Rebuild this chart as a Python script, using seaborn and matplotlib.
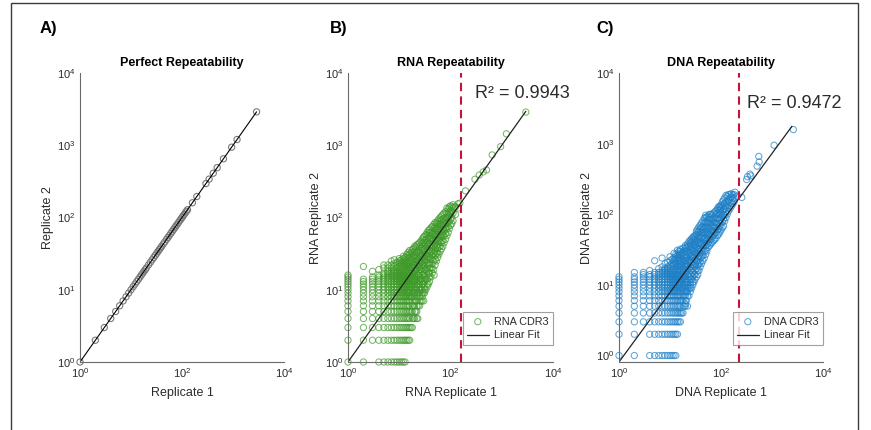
import numpy as np
import pandas as pd
import matplotlib
matplotlib.use('Agg')
import matplotlib.pyplot as plt
import seaborn as sns
from matplotlib.ticker import FixedLocator, LogLocator, NullFormatter, LogFormatterSciNotation
from matplotlib.patches import Rectangle

# ================================
# 0. style
# ================================
sns.set_theme(style='white')
plt.rcParams['font.family'] = ['Liberation Sans', 'DejaVu Sans']
plt.rcParams['mathtext.fontset'] = 'custom'
plt.rcParams['mathtext.rm'] = 'Liberation Sans'
plt.rcParams['mathtext.it'] = 'Liberation Sans:italic'
plt.rcParams['mathtext.bf'] = 'Liberation Sans:bold'

GREEN = '#3f9a2a'
BLUE = '#1f80c6'
GREY = '#7a7a7a'
RED = '#c4143a'
AXIS = '#6a6a6a'
TXT = '#2b2b2b'

# ================================
# data
# ================================
# A) perfect repeatability
perfect_vals = [1, 2, 3, 4, 5, 6, 7, 8, 9, 10, 11, 12, 13, 14, 15, 16, 17, 18, 19, 20,
                22, 24, 26, 28, 30, 32, 34, 36, 38, 40, 43, 46, 50, 53, 56, 60, 64, 68,
                72, 76, 80, 85, 90, 95, 100, 105, 110, 116, 122, 128, 160, 195, 295,
                340, 410, 490, 650, 940, 1200, 2900]

# B) RNA - low count integer grid (replicate 1 value -> replicate 2 values)
rna_grid_x = [1, 2, 3, 4, 5, 6, 7, 8, 9, 10, 11, 12, 13, 14, 15]
rna_grid_y = [
    [1, 2, 3, 4, 5, 6, 7, 8, 9, 10, 11, 12, 13, 14, 15, 16],
    [1, 2, 3, 4, 5, 6, 7, 8, 9, 10, 11, 12, 13, 14, 21],
    [2, 3, 4, 5, 6, 7, 8, 9, 10, 11, 12, 13, 14, 15, 18],
    [1, 2, 3, 4, 5, 6, 7, 8, 9, 10, 11, 12, 13, 14, 15, 16, 19],
    [1, 2, 3, 4, 5, 6, 7, 8, 9, 10, 11, 12, 13, 14, 15, 16, 17, 20, 22],
    [1, 2, 3, 4, 5, 6, 7, 8, 9, 10, 11, 12, 13, 14, 15, 16, 17, 18, 20, 22],
    [1, 2, 3, 4, 5, 6, 7, 8, 9, 10, 11, 12, 13, 14, 15, 16, 17, 18, 20, 22, 25],
    [1, 2, 3, 4, 5, 6, 7, 8, 9, 10, 11, 12, 13, 14, 15, 16, 17, 18, 19, 21, 23, 26],
    [1, 2, 3, 4, 5, 6, 7, 8, 9, 10, 11, 12, 13, 14, 15, 16, 17, 18, 20, 22, 24],
    [1, 2, 3, 4, 5, 6, 7, 8, 9, 10, 11, 12, 13, 14, 15, 16, 17, 18, 19, 21, 23, 25, 27],
    [1, 2, 3, 4, 5, 6, 7, 8, 9, 10, 11, 12, 13, 14, 15, 16, 17, 18, 20, 22, 24, 26],
    [1, 2, 3, 4, 5, 6, 7, 8, 9, 10, 11, 12, 13, 14, 15, 16, 17, 19, 21, 23, 25, 27, 29],
    [1, 2, 3, 4, 5, 6, 7, 8, 9, 10, 11, 12, 13, 14, 15, 16, 18, 20, 22, 24, 26, 28],
    [2, 3, 4, 5, 6, 7, 8, 9, 10, 11, 12, 13, 14, 15, 16, 17, 19, 21, 23, 25, 28, 31],
    [2, 3, 4, 5, 6, 7, 8, 9, 10, 11, 12, 13, 14, 15, 16, 18, 20, 22, 24, 27, 30, 33],
]
# B) RNA - dense cloud
rna_cloud_x = [16, 18, 20, 22, 25, 28, 31, 35, 39, 44, 50, 56, 63, 71, 80, 90, 100, 112, 125, 140]
rna_cloud_y = [
    [2, 3, 4, 5, 6, 7, 8, 9, 10, 11, 12, 13, 14, 15, 16, 17, 19, 21, 23, 25, 28, 31, 35],
    [3, 4, 5, 6, 7, 8, 9, 10, 11, 12, 13, 14, 15, 16, 17, 18, 20, 22, 24, 26, 29, 32, 36],
    [4, 5, 6, 7, 8, 9, 10, 11, 12, 13, 14, 15, 16, 18, 20, 22, 24, 27, 30, 34, 40],
    [4, 5, 6, 7, 8, 9, 10, 11, 12, 13, 14, 16, 18, 20, 22, 24, 26, 29, 33, 38, 42],
    [6, 7, 8, 9, 10, 11, 12, 13, 14, 15, 17, 19, 21, 23, 25, 28, 31, 35, 40, 45],
    [7, 8, 9, 10, 12, 13, 14, 16, 18, 20, 22, 25, 28, 31, 35, 39, 44, 50],
    [9, 10, 11, 13, 15, 17, 19, 21, 24, 27, 30, 33, 37, 42, 48, 55],
    [11, 12, 14, 16, 18, 20, 23, 26, 29, 32, 36, 40, 45, 51, 57, 62],
    [13, 15, 17, 20, 23, 26, 29, 32, 36, 40, 45, 50, 56, 62, 68],
    [17, 20, 23, 26, 30, 34, 38, 42, 47, 52, 58, 64, 75],
    [22, 26, 30, 34, 38, 43, 48, 54, 60, 66, 74, 85],
    [28, 32, 37, 42, 47, 53, 59, 66, 74, 82, 90],
    [34, 40, 46, 52, 58, 65, 72, 80, 90, 100],
    [40, 48, 56, 63, 70, 78, 87, 96, 110],
    [50, 60, 70, 80, 90, 100, 120],
    [62, 75, 88, 100, 112, 130],
    [78, 95, 110, 125, 145],
    [90, 115, 135, 150],
    [110, 140],
    [135, 155],
]
rna_mid_x = [17, 19, 21, 23.5, 26.5, 29.5, 33, 37, 41.5, 47, 53, 59.5, 67, 75, 85, 95, 106]
rna_mid_y = [
    [3, 5, 8, 11, 15, 20, 26, 33],
    [4, 6, 9, 13, 17, 22, 29, 37],
    [5, 7, 10, 14, 19, 25, 31, 39],
    [6, 9, 12, 16, 21, 27, 34, 43],
    [7, 10, 14, 19, 24, 30, 38, 47],
    [9, 12, 16, 22, 28, 36, 45, 53],
    [10, 14, 19, 25, 31, 39, 49, 58],
    [12, 17, 22, 28, 35, 43, 53, 66],
    [15, 20, 27, 34, 42, 51, 61, 72],
    [19, 25, 32, 40, 49, 58, 70, 80],
    [25, 32, 40, 49, 58, 70, 84],
    [31, 39, 48, 58, 69, 80, 95],
    [37, 45, 55, 66, 78, 92, 105],
    [45, 56, 68, 82, 96, 115],
    [56, 70, 84, 98, 115, 135],
    [70, 88, 105, 120, 140],
    [82, 100, 120, 140],
]
# B) RNA - sparse high-count clones
rna_top_x = [23, 30, 48, 122, 152, 196, 300, 363, 435, 505, 650, 950, 1230, 2950]
rna_top_y = [4, 7, 16, 141, 158, 234, 338, 387, 428, 455, 735, 955, 1440, 2880]
rna_fit_x = [1, 2950]
rna_fit_y = [1, 2950]
rna_cutoff = 157
rna_r2 = 0.9943

# C) DNA - low count integer grid
dna_grid_x = [1, 2, 3, 4, 5, 6, 7, 8, 9, 10, 11, 12, 13, 14, 15]
dna_grid_y = [
    [1, 2, 3, 4, 5, 6, 7, 8, 9, 10, 11, 12, 13],
    [1, 2, 3, 4, 5, 6, 7, 8, 9, 10, 11, 12, 13, 15],
    [3, 4, 5, 6, 7, 8, 9, 10, 11, 12, 13, 14, 15],
    [1, 2, 3, 4, 5, 6, 7, 8, 9, 10, 11, 12, 13, 14, 16],
    [1, 2, 3, 4, 5, 6, 7, 8, 9, 10, 11, 12, 13, 14, 15, 22],
    [1, 2, 3, 4, 5, 6, 7, 8, 9, 10, 11, 12, 13, 14, 15, 17],
    [1, 2, 3, 4, 5, 6, 7, 8, 9, 10, 11, 12, 13, 14, 15, 16, 18, 24],
    [1, 2, 3, 4, 5, 6, 7, 8, 9, 10, 11, 12, 13, 14, 15, 16, 17, 20],
    [1, 2, 3, 4, 5, 6, 7, 8, 9, 10, 11, 12, 13, 14, 15, 16, 17, 18, 21],
    [1, 2, 3, 4, 5, 6, 7, 8, 9, 10, 11, 12, 13, 14, 15, 16, 17, 19, 22, 25],
    [1, 2, 3, 4, 5, 6, 7, 8, 9, 10, 11, 12, 13, 14, 15, 16, 18, 20, 23],
    [1, 2, 3, 4, 5, 6, 7, 8, 9, 10, 11, 12, 13, 14, 15, 17, 19, 20, 22, 24, 28],
    [1, 2, 3, 4, 5, 6, 7, 8, 9, 10, 11, 12, 13, 14, 16, 18, 20, 21, 23, 25, 27],
    [2, 3, 4, 5, 6, 7, 8, 9, 10, 11, 12, 13, 14, 16, 18, 20, 22, 24, 26, 31],
    [3, 4, 5, 6, 7, 8, 9, 10, 11, 12, 13, 14, 16, 18, 20, 22, 24, 26, 28, 30],
]
dna_cloud_x = [16, 18, 20, 22, 25, 28, 31, 35, 39, 44, 50, 56, 63, 71, 80, 90, 100, 112, 125, 140, 160, 180]
dna_cloud_y = [
    [3, 4, 5, 6, 7, 8, 9, 10, 11, 12, 13, 14, 15, 16, 18, 20, 22, 24, 27, 30, 32],
    [4, 5, 6, 7, 8, 9, 10, 11, 12, 13, 14, 15, 17, 19, 21, 23, 26, 29, 33],
    [5, 6, 7, 8, 9, 10, 11, 12, 13, 14, 16, 18, 20, 22, 24, 27, 30, 34, 36],
    [5, 7, 8, 9, 10, 11, 12, 14, 16, 18, 20, 22, 25, 28, 31, 35, 38],
    [8, 9, 10, 11, 12, 14, 16, 18, 20, 22, 25, 28, 31, 35, 39, 43],
    [10, 11, 13, 15, 17, 19, 21, 24, 27, 30, 34, 38, 43, 47],
    [12, 14, 16, 18, 20, 23, 26, 29, 33, 37, 41, 46, 50],
    [14, 16, 19, 22, 25, 28, 32, 36, 40, 45, 50, 56, 62],
    [18, 21, 24, 28, 32, 36, 40, 45, 50, 56, 62, 70],
    [22, 26, 30, 34, 39, 44, 49, 55, 61, 68, 80],
    [27, 31, 36, 41, 47, 53, 60, 68, 77, 90, 97],
    [34, 39, 45, 51, 58, 66, 75, 85, 95],
    [38, 44, 51, 58, 66, 75, 85, 100],
    [42, 50, 58, 67, 77, 88, 103],
    [46, 55, 65, 75, 88, 100, 112],
    [52, 62, 75, 88, 100, 115, 128],
    [60, 75, 90, 105, 120, 135],
    [68, 85, 100, 120, 140, 160],
    [90, 110, 130, 150, 185],
    [110, 135, 160, 190],
    [130, 150, 175, 195],
    [150, 170, 190],
]
dna_mid_x = [17, 19, 21, 23.5, 26.5, 29.5, 33, 37, 41.5, 47, 53, 59.5, 67, 75, 85, 95, 106, 118, 132, 150, 170]
dna_mid_y = [
    [4, 6, 9, 12, 16, 21, 28],
    [5, 7, 10, 13, 17, 22, 30],
    [6, 8, 11, 15, 19, 25, 33],
    [7, 9, 13, 17, 22, 28, 36, 41],
    [9, 12, 16, 21, 26, 32, 40, 45],
    [11, 14, 19, 24, 30, 37, 44, 49],
    [13, 17, 22, 28, 34, 42, 52, 58],
    [16, 20, 26, 32, 39, 47, 57, 66],
    [20, 25, 31, 38, 46, 55, 65, 75],
    [24, 30, 37, 45, 54, 64, 76, 88],
    [30, 37, 45, 54, 64, 76, 92],
    [36, 44, 53, 63, 75, 90, 100],
    [40, 48, 58, 70, 83, 98],
    [44, 53, 64, 77, 92, 108],
    [50, 60, 72, 86, 102, 120],
    [56, 68, 82, 98, 115, 130],
    [64, 78, 95, 112, 130, 150],
    [80, 98, 118, 140, 170],
    [100, 125, 150, 180],
    [120, 145, 170, 192],
    [140, 165, 188],
]
dna_top_x = [20, 96, 188, 205, 256, 318, 330, 370, 385, 510, 560, 550, 1100, 2620]
dna_top_y = [5.4, 125, 205, 180, 173, 310, 340, 370, 350, 480, 550, 660, 950, 1580]
dna_fit_x = [1, 2460]
dna_fit_y = [0.81, 1760]
dna_cutoff = 225
dna_r2 = 0.9472


def build(columns, top_x, top_y):
    rows = []
    for xs, yss in columns:
        for x, ys in zip(xs, yss):
            rows += [(x, y) for y in ys]
    rows += list(zip(top_x, top_y))
    return pd.DataFrame(rows, columns=['rep1', 'rep2'])


rna = build([(rna_grid_x, rna_grid_y), (rna_cloud_x, rna_cloud_y), (rna_mid_x, rna_mid_y)],
            rna_top_x, rna_top_y)
dna = build([(dna_grid_x, dna_grid_y), (dna_cloud_x, dna_cloud_y), (dna_mid_x, dna_mid_y)],
            dna_top_x, dna_top_y)
perfect = pd.DataFrame({'rep1': perfect_vals, 'rep2': perfect_vals})

# ================================
# figure
# ================================
W, H = 871, 430
fig = plt.figure(figsize=(W / 100, H / 100), dpi=100)
fig.add_artist(Rectangle((11 / W, -0.1), (858 - 11) / W, 1.1 - 3 / H,
                         transform=fig.transFigure, fill=False,
                         edgecolor='#3a3a3a', linewidth=1.0))

bottom = 1 - 362 / H
height = (362 - 73) / H
axA = fig.add_axes([80 / W, bottom, 204 / W, height])
axB = fig.add_axes([348 / W, bottom, 205 / W, height])
axC = fig.add_axes([619 / W, bottom, 204 / W, height])


def style_axes(ax, ylow, title, xlabel, ylabel):
    ax.set_xscale('log')
    ax.set_yscale('log')
    ax.set_xlim(1, 1e4)
    ax.set_ylim(ylow, 1e4)
    ax.xaxis.set_major_locator(FixedLocator([1, 1e2, 1e4]))
    ax.yaxis.set_major_locator(FixedLocator([1, 1e1, 1e2, 1e3, 1e4]))
    for axis in (ax.xaxis, ax.yaxis):
        axis.set_major_formatter(LogFormatterSciNotation())
        axis.set_minor_locator(LogLocator(base=10, subs=np.arange(1, 10), numticks=30))
        axis.set_minor_formatter(NullFormatter())
    ax.tick_params(which='major', direction='in', length=3.5, width=0.6,
                   color=AXIS, labelsize=8, labelcolor=TXT, pad=3)
    ax.tick_params(which='minor', direction='in', length=2, width=0.5, color=AXIS)
    sns.despine(ax=ax)
    for s in ('left', 'bottom'):
        ax.spines[s].set_color(AXIS)
        ax.spines[s].set_linewidth(0.8)
    ax.set_title(title, fontsize=9, fontweight='bold', color='black', pad=5)
    ax.set_xlabel(xlabel, fontsize=9, color=TXT, labelpad=5)
    ax.set_ylabel(ylabel, fontsize=9, color=TXT, labelpad=2)
    ax.grid(False)


# A) perfect
sns.lineplot(data=perfect, x='rep1', y='rep2', color='black', linewidth=0.8, ax=axA)
sns.scatterplot(data=perfect, x='rep1', y='rep2', marker='o', s=20, clip_on=False,
                facecolor='none', edgecolor=GREY, linewidth=0.8, ax=axA)
style_axes(axA, 1, 'Perfect Repeatability', 'Replicate 1', 'Replicate 2')

# B) RNA
sns.scatterplot(data=rna, x='rep1', y='rep2', marker='o', s=20, facecolor='none', clip_on=False,
                edgecolor=GREEN, linewidth=0.75, alpha=0.7, label='RNA CDR3', ax=axB)
sns.lineplot(x=rna_fit_x, y=rna_fit_y, color='#222222', linewidth=0.9,
             label='Linear Fit', ax=axB)
axB.axvline(rna_cutoff, color=RED, linestyle=(0, (4, 2.5)), linewidth=1.5)
style_axes(axB, 1, 'RNA Repeatability', 'RNA Replicate 1', 'RNA Replicate 2')
axB.text(297, 5200, f'R² = {rna_r2:.4f}', fontsize=13, color=TXT, va='center', ha='left')

# C) DNA
sns.scatterplot(data=dna, x='rep1', y='rep2', marker='o', s=20, facecolor='none', clip_on=False,
                edgecolor=BLUE, linewidth=0.75, alpha=0.7, label='DNA CDR3', ax=axC)
sns.lineplot(x=dna_fit_x, y=dna_fit_y, color='#222222', linewidth=0.9,
             label='Linear Fit', ax=axC)
axC.axvline(dna_cutoff, color=RED, linestyle=(0, (4, 2.5)), linewidth=1.5)
style_axes(axC, 0.81, 'DNA Repeatability', 'DNA Replicate 1', 'DNA Replicate 2')
axC.text(318, 3700, f'R² = {dna_r2:.4f}', fontsize=13, color=TXT, va='center', ha='left')

for ax in (axB, axC):
    leg = ax.legend(loc='lower right', bbox_to_anchor=(1.0, 0.06), borderaxespad=0,
                    frameon=True, fancybox=False, fontsize=7.8, handlelength=2.0,
                    borderpad=0.4, labelspacing=0.35, handletextpad=0.5)
    leg.get_frame().set_edgecolor('#8a8a8a')
    leg.get_frame().set_linewidth(0.8)
    for t in leg.get_texts():
        t.set_color(TXT)

for lab, xp in (('A)', 40), ('B)', 330), ('C)', 596)):
    fig.text(xp / W, 1 - 29 / H, lab, fontsize=12, fontweight='bold',
             ha='left', va='center', color='black')

fig.savefig('out.png', dpi=100)
